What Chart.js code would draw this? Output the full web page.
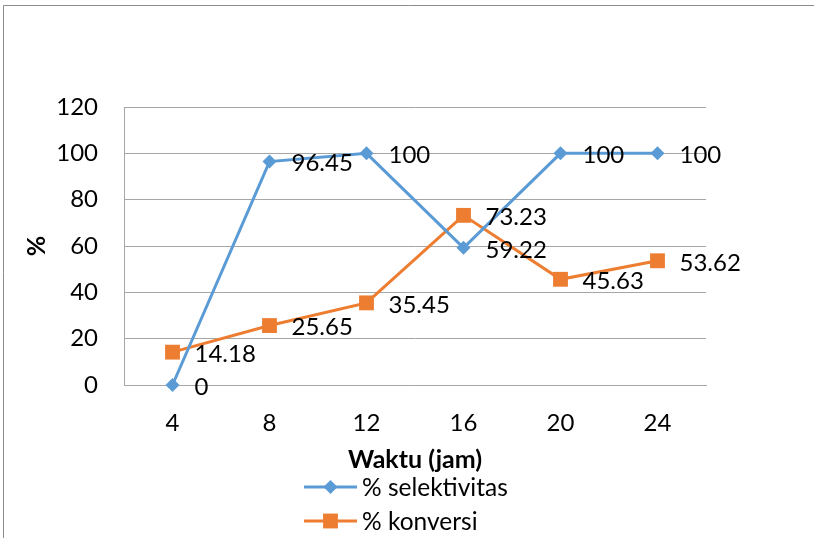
<!DOCTYPE html>
<html>
<head>
<meta charset="utf-8">
<script src="https://cdn.jsdelivr.net/npm/chart.js@4.4.1/dist/chart.umd.min.js"></script>
<style>
  html, body { margin: 0; padding: 0; background: #fff; }
  #wrap { width: 814px; height: 538px; position: relative; }
</style>
</head>
<body>
<div id="wrap"><canvas id="c" width="814" height="538"></canvas></div>
<script>
// Reaction time (hours) and measured percentages
const hours = ['4', '8', '12', '16', '20', '24'];
const selektivitas = [0, 96.45, 100, 59.22, 100, 100];
const konversi = [14.18, 25.65, 35.45, 73.23, 45.63, 53.62];
const yMin = 0, yMax = 120, yStep = 20;

const BLUE = '#5B9BD5';
const ORANGE = '#ED7D31';
const GRID = '#a6a6a6';
const FONT = 'Lato, Carlito, "Liberation Sans", sans-serif';
const TEXT_SIZE = 24;

// Thin outer frame around the whole figure
const framePlugin = {
  id: 'frame',
  beforeDraw(chart) {
    const ctx = chart.ctx;
    ctx.save();
    ctx.fillStyle = '#fff';
    ctx.fillRect(0, 0, chart.width, chart.height);
    ctx.strokeStyle = '#8c8c8c';
    ctx.lineWidth = 1;
    ctx.beginPath();
    ctx.moveTo(3.5, chart.height + 2);
    ctx.lineTo(3.5, 5.5);
    ctx.lineTo(chart.width + 2, 5.5);
    ctx.stroke();
    ctx.restore();
  }
};

// Value labels to the right of every point
const valueLabels = {
  id: 'valueLabels',
  afterDatasetsDraw(chart) {
    const ctx = chart.ctx;
    ctx.save();
    ctx.font = TEXT_SIZE + 'px ' + FONT;
    ctx.fillStyle = '#000';
    ctx.textAlign = 'left';
    ctx.textBaseline = 'middle';
    chart.data.datasets.forEach((ds, i) => {
      const meta = chart.getDatasetMeta(i);
      meta.data.forEach((pt, j) => {
        ctx.fillText(String(ds.data[j]), pt.x + 22, pt.y + 2);
      });
    });
    ctx.restore();
  }
};

function drawMarker(ctx, style, x, y, r, color) {
  ctx.fillStyle = color;
  ctx.beginPath();
  if (style === 'rectRot') {
    ctx.moveTo(x, y - r);
    ctx.lineTo(x + r, y);
    ctx.lineTo(x, y + r);
    ctx.lineTo(x - r, y);
    ctx.closePath();
  } else {
    const s = r * Math.SQRT1_2;
    ctx.rect(x - s, y - s, 2 * s, 2 * s);
  }
  ctx.fill();
}

// Stacked legend under the axis title
const stackedLegend = {
  id: 'stackedLegend',
  afterDraw(chart) {
    const ctx = chart.ctx;
    const x0 = 304, x1 = 357, textX = 362;
    const rows = [487, 521];
    ctx.save();
    ctx.font = '24.5px ' + FONT;
    ctx.textAlign = 'left';
    ctx.textBaseline = 'middle';
    chart.data.datasets.forEach((ds, i) => {
      const y = rows[i];
      ctx.strokeStyle = ds.borderColor;
      ctx.lineWidth = ds.borderWidth;
      ctx.beginPath();
      ctx.moveTo(x0, y);
      ctx.lineTo(x1, y);
      ctx.stroke();
      drawMarker(ctx, ds.pointStyle, (x0 + x1) / 2, y, ds.pointRadius, ds.backgroundColor);
      ctx.fillStyle = '#000';
      ctx.fillText(ds.label, textX, y + 1);
    });
    ctx.restore();
  }
};

function build() {
  new Chart(document.getElementById('c'), {
    type: 'line',
    data: {
      labels: hours,
      datasets: [
        {
          label: '% selektivitas',
          data: selektivitas,
          borderColor: BLUE,
          backgroundColor: BLUE,
          borderWidth: 3,
          pointStyle: 'rectRot',
          pointRadius: 7,
          pointBorderWidth: 0,
          tension: 0,
          clip: false
        },
        {
          label: '% konversi',
          data: konversi,
          borderColor: ORANGE,
          backgroundColor: ORANGE,
          borderWidth: 3,
          pointStyle: 'rect',
          pointRadius: 10.5,
          pointBorderWidth: 0,
          tension: 0,
          clip: false
        }
      ]
    },
    options: {
      responsive: false,
      animation: false,
      layout: { padding: { top: 107, left: 0, right: 108, bottom: 63 } },
      plugins: {
        legend: { display: false },
        tooltip: { enabled: false }
      },
      scales: {
        x: {
          offset: true,
          grid: { display: false, drawTicks: false },
          border: { display: true, color: GRID, width: 1 },
          ticks: { color: '#000', padding: 24, font: { family: FONT, size: TEXT_SIZE } },
          title: {
            display: true,
            text: 'Waktu (jam)',
            color: '#000',
            padding: 0,
            font: { family: FONT, size: 25, weight: 'bold' }
          },
          afterFit(scale) { scale.height = 90; }
        },
        y: {
          min: yMin,
          max: yMax,
          ticks: { stepSize: yStep, color: '#000', padding: 26, font: { family: FONT, size: TEXT_SIZE } },
          grid: { color: GRID, lineWidth: 1, drawTicks: false },
          border: { display: true, color: GRID, width: 1 },
          title: {
            display: true,
            text: '%',
            color: '#000',
            padding: { top: 22, bottom: 0 },
            font: { family: FONT, size: 25, weight: 'bold' }
          },
          afterFit(scale) { scale.width = 124; }
        }
      }
    },
    plugins: [framePlugin, valueLabels, stackedLegend]
  });
}

if (document.fonts && document.fonts.load) {
  Promise.all([
    document.fonts.load('24px Lato'),
    document.fonts.load('bold 25px Lato')
  ]).then(build, build);
} else {
  build();
}
</script>
</body>
</html>
